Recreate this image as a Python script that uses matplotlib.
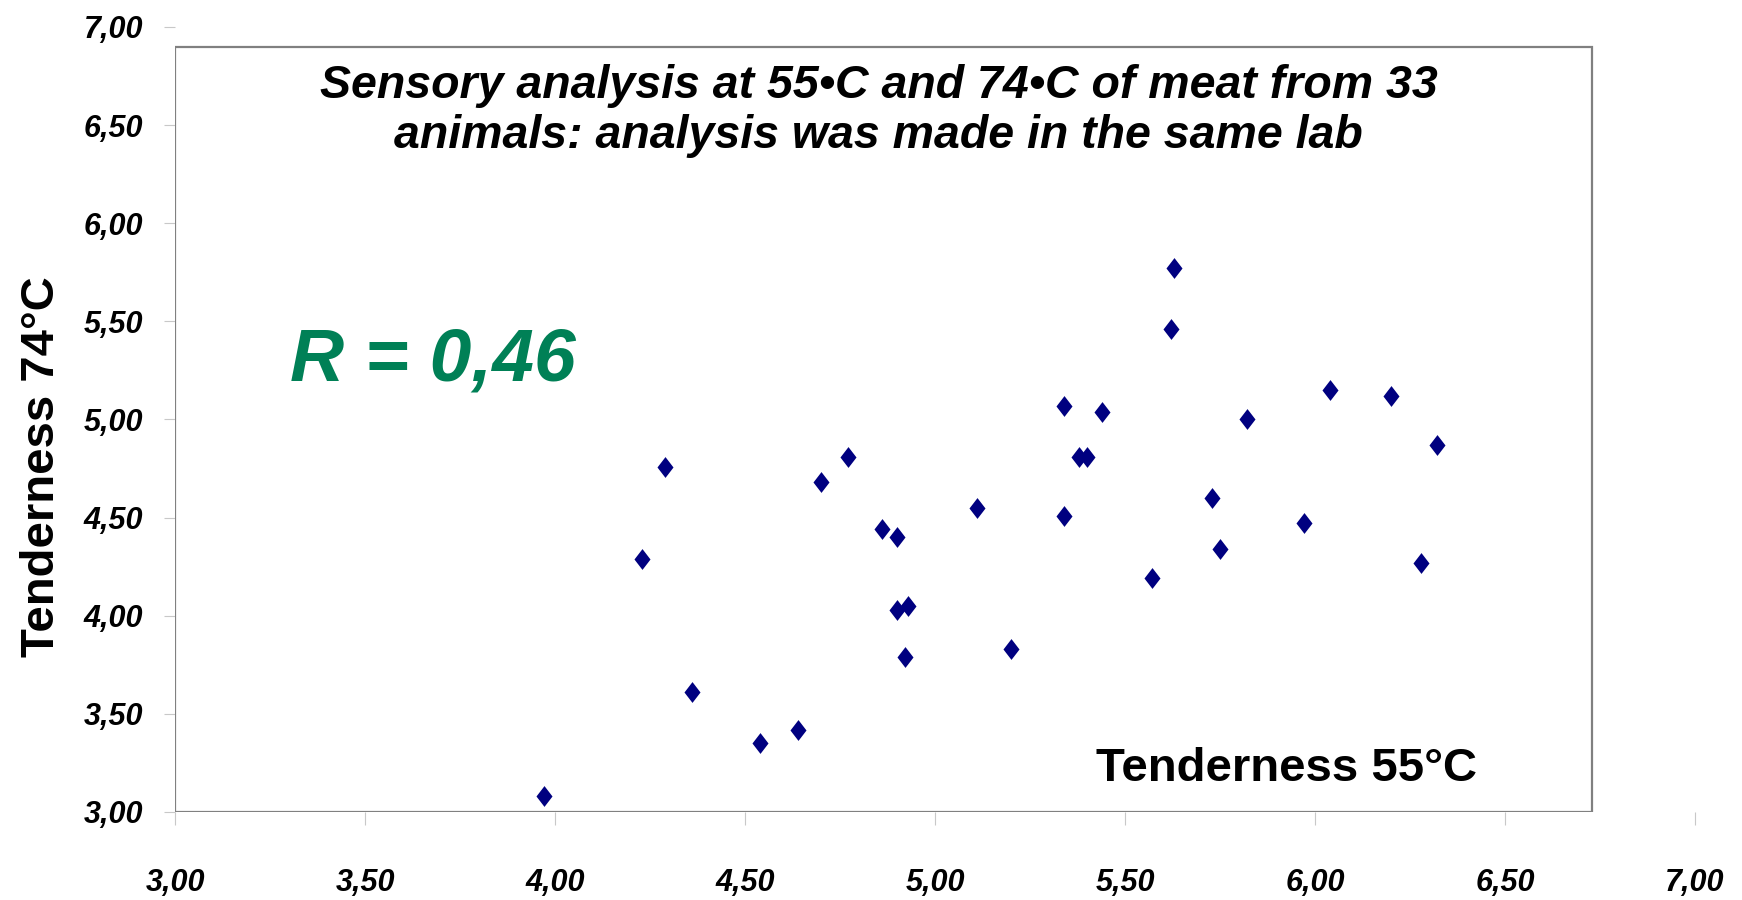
#! /usr/bin/env python3

import numpy as np
import matplotlib
matplotlib.use("Agg")
import matplotlib.pyplot as plt
from matplotlib.patches import Rectangle
from matplotlib.path import Path

# tenderness scores, one pair per animal
tender55 = [3.97, 4.23, 4.29, 4.36, 4.54, 4.64, 4.70, 4.77, 4.86, 4.90,
            4.90, 4.93, 4.92, 5.11, 5.20, 5.34, 5.34, 5.38, 5.40, 5.44,
            5.57, 5.62, 5.63, 5.73, 5.75, 5.82, 5.97, 6.04, 6.20, 6.28,
            6.32]
tender74 = [3.08, 4.29, 4.76, 3.61, 3.35, 3.42, 4.68, 4.81, 4.44, 4.40,
            4.03, 4.05, 3.79, 4.55, 3.83, 5.07, 4.51, 4.81, 4.81, 5.04,
            4.19, 5.46, 5.77, 4.60, 4.34, 5.00, 4.47, 5.15, 5.12, 4.27,
            4.87]

tick_values = [3.0, 3.5, 4.0, 4.5, 5.0, 5.5, 6.0, 6.5, 7.0]
tick_labels = ['3,00', '3,50', '4,00', '4,50', '5,00', '5,50', '6,00', '6,50', '7,00']

title = "Sensory analysis at 55\u2022C and 74\u2022C of meat from 33\nanimals: analysis was made in the same lab"
r_text = "R = 0,46"

plt.rcParams['font.family'] = ['Liberation Sans', 'DejaVu Sans']

fig = plt.figure(figsize=(17.42, 9.0), dpi=100)
ax = fig.add_axes([0.1005, 0.0978, 0.8725, 0.8722])

# Excel style diamond, a bit taller than wide
diamond = Path([(0, 1), (0.77, 0), (0, -1), (-0.77, 0), (0, 1)],
               [Path.MOVETO, Path.LINETO, Path.LINETO, Path.LINETO, Path.CLOSEPOLY])
ax.plot(tender55, tender74, linestyle='none', marker=diamond, markersize=15,
        color='#000080', markeredgewidth=0, zorder=3)

ax.set_xlim(3, 7)
ax.set_ylim(3, 7)
for s in ax.spines.values():
    s.set_visible(False)

# plot area frame (smaller than the axis range, as in the original)
ax.add_patch(Rectangle((0, 0), 0.932, 0.975, transform=ax.transAxes,
                       fill=False, edgecolor='#808080', linewidth=1.6, zorder=2))

ax.set_xticks(tick_values)
ax.set_xticklabels(tick_labels)
ax.set_yticks(tick_values)
ax.set_yticklabels(tick_labels)
ax.tick_params(axis='x', length=9, width=0.8, color='#c8c8c8', pad=31)
ax.tick_params(axis='y', length=8, width=0.8, color='#c8c8c8', pad=15)
for lab in ax.get_xticklabels() + ax.get_yticklabels():
    lab.set_fontsize(22)
    lab.set_fontweight('bold')
    lab.set_fontstyle('italic')

ax.set_xlabel("Tenderness 55\u00b0C", fontsize=34, fontweight='bold', va='baseline')
ax.xaxis.set_label_coords(0.731, 0.0395)
ax.set_ylabel("Tenderness 74\u00b0C", fontsize=34, fontweight='bold', va='baseline')
ax.yaxis.set_label_coords(-0.0796, 0.4395)

ax.text(0.463, 0.893, title, transform=ax.transAxes, ha='center', va='center',
        multialignment='center', fontsize=33.5, fontweight='bold', fontstyle='italic')
ax.text(0.1697, 0.550, r_text, transform=ax.transAxes, ha='center', va='baseline',
        fontsize=54, fontweight='bold', fontstyle='italic', color='#008056')

fig.savefig("out.png", dpi=100)
